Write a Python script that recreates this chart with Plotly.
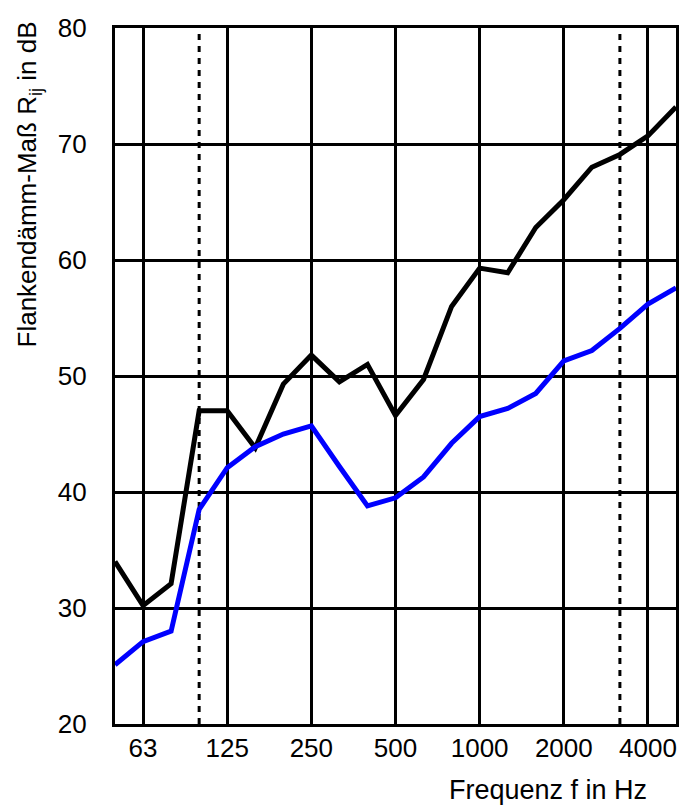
import plotly.graph_objects as go

freq = ["50", "63", "80", "100", "125", "160", "200", "250", "315", "400", "500",
        "630", "800", "1000", "1250", "1600", "2000", "2500", "3150", "4000", "5000"]
r_black = [34.0, 30.2, 32.1, 47.0, 47.0, 43.8, 49.3, 51.8, 49.5, 51.0, 46.6,
           49.7, 56.0, 59.3, 58.9, 62.8, 65.2, 68.0, 69.1, 70.7, 73.2]
r_blue = [25.1, 27.1, 28.0, 38.5, 42.1, 43.9, 45.0, 45.7, 42.2, 38.8, 39.5,
          41.3, 44.2, 46.5, 47.2, 48.5, 51.3, 52.2, 54.1, 56.2, 57.6]
x_ticks = ["63", "125", "250", "500", "1000", "2000", "4000"]
y_ticks = [20, 30, 40, 50, 60, 70, 80]
dotted_freqs = ["100", "3150"]

fig = go.Figure()
for f in dotted_freqs:
    fig.add_trace(go.Scatter(x=[f, f], y=[20, 80], mode="lines",
                             line=dict(color="black", width=3, dash="6px,6px"),
                             showlegend=False, hoverinfo="skip"))
fig.add_trace(go.Scatter(x=freq, y=r_black, mode="lines",
                         line=dict(color="black", width=5), showlegend=False))
fig.add_trace(go.Scatter(x=freq, y=r_blue, mode="lines",
                         line=dict(color="#0000ff", width=5), showlegend=False))

L, R, T, B = 115, 679, 28, 724
W, H = 685, 807
pw, ph = R - L, B - T

font = "Liberation Sans, Arial, sans-serif"
fig.update_layout(
    width=W, height=H,
    margin=dict(l=L, r=W - R, t=T, b=H - B),
    paper_bgcolor="white", plot_bgcolor="white",
    font=dict(family=font, size=26, color="black"),
    xaxis=dict(type="category", categoryorder="array", categoryarray=freq,
               range=[0, len(freq) - 1],
               tickvals=x_ticks, ticktext=x_ticks,
               showgrid=True, gridcolor="black", gridwidth=2.5,
               showline=True, linecolor="black", linewidth=3.3, mirror=True,
               ticks="", ticklabelstandoff=-1, zeroline=False),
    yaxis=dict(range=[20, 80], tickvals=y_ticks,
               showgrid=True, gridcolor="black", gridwidth=2.5,
               showline=True, linecolor="black", linewidth=3.3, mirror=True,
               ticks="", ticklabelstandoff=20, zeroline=False),
    annotations=[
        dict(text="Flankendämm-Maß R<sub>ij</sub> in dB", textangle=-90,
             xref="paper", yref="paper", x=(28 - L) / pw, y=(B - 184) / ph,
             xanchor="center", yanchor="middle", showarrow=False,
             font=dict(size=26)),
        dict(text="Frequenz f in Hz",
             xref="paper", yref="paper", x=(652 - L) / pw, y=(B - 790) / ph,
             xanchor="right", yanchor="middle", showarrow=False,
             font=dict(size=27)),
    ],
)
fig.write_html("out.html", config={"displayModeBar": False},
               post_script="document.body.style.margin='0px';")
